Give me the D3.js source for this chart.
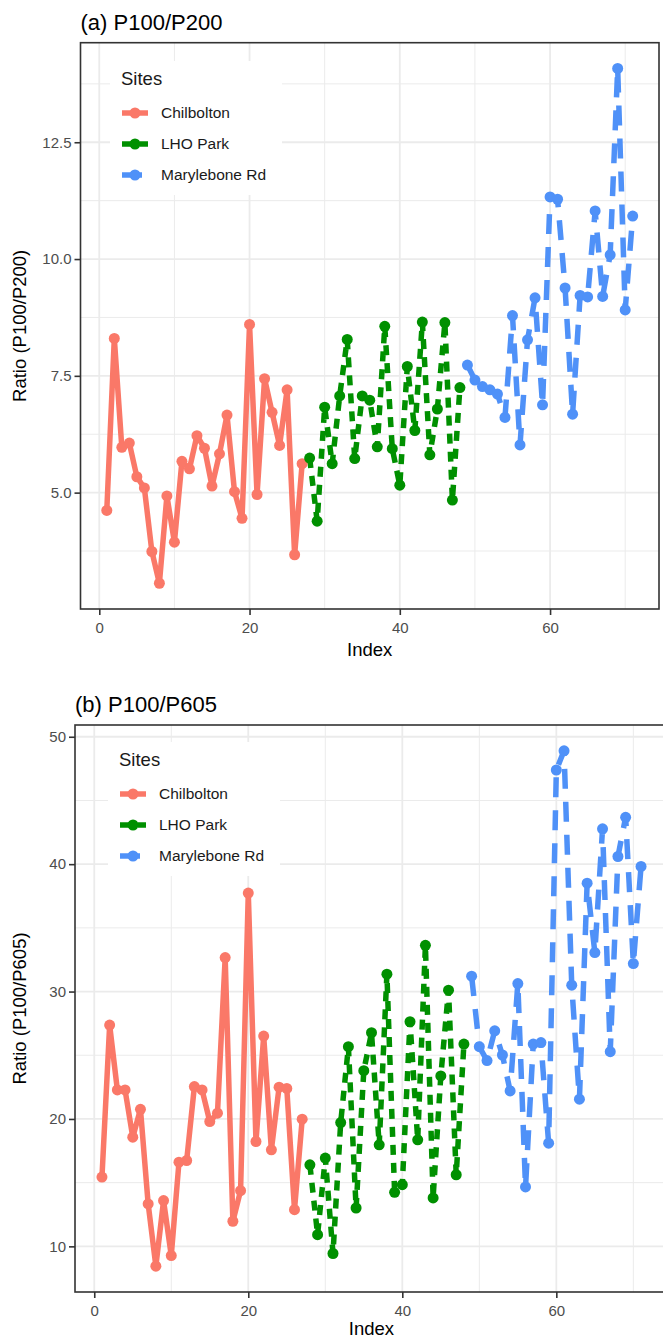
<!DOCTYPE html>
<html>
<head>
<meta charset="utf-8">
<script src="https://cdn.jsdelivr.net/npm/d3@7"></script>
<style>
body { margin: 0; background: #fff; }
svg { display: block; font-family: Arial, "Liberation Sans", sans-serif; }
</style>
</head>
<body>
<script>
var sites = ["Chilbolton", "LHO Park", "Marylebone Rd"];
var colors = ["#FA7868", "#009000", "#4F91F8"];
var dashes = [null, "10,8", "20,13"];

// values in index order, site by site (Chilbolton 1-27, LHO Park 28-48, Marylebone Rd 49-71)
var chil200 = [4.62, 8.30, 5.97, 6.06, 5.34, 5.10, 3.74, 3.06, 4.93, 3.94, 5.67, 5.51, 6.22, 5.95, 5.14, 5.83, 6.66, 5.02, 4.45, 8.60, 4.96, 7.44, 6.72, 6.01, 7.20, 3.67, 5.62];
var lho200 = [5.74, 4.39, 6.83, 5.62, 7.07, 8.28, 5.73, 7.07, 6.98, 5.98, 8.56, 5.94, 5.16, 7.70, 6.33, 8.65, 5.81, 6.79, 8.64, 4.84, 7.25];
var mary200 = [7.73, 7.41, 7.27, 7.20, 7.11, 6.61, 8.79, 6.02, 8.27, 9.17, 6.88, 11.33, 11.28, 9.38, 6.68, 9.22, 9.19, 11.03, 9.20, 10.09, 14.08, 8.91, 10.92];

var chil605 = [15.44, 27.37, 22.28, 22.28, 18.57, 20.76, 13.33, 8.44, 13.59, 9.28, 16.61, 16.74, 22.54, 22.28, 19.80, 20.45, 32.67, 11.97, 14.37, 37.73, 18.23, 26.51, 17.58, 22.49, 22.40, 12.88, 19.98];
var lho605 = [16.40, 10.92, 16.93, 9.44, 19.72, 25.67, 13.01, 23.79, 26.77, 17.97, 31.36, 14.24, 14.84, 27.63, 18.36, 33.63, 13.80, 23.38, 30.11, 15.62, 25.88];
var mary605 = [31.21, 25.67, 24.58, 26.92, 25.02, 22.20, 30.63, 14.66, 25.88, 26.00, 18.10, 47.39, 48.90, 30.50, 21.55, 38.51, 33.06, 42.77, 25.28, 40.60, 43.68, 32.20, 39.82];

var xTicks = [0, 20, 40, 60];
var xMinor = [10, 30, 50, 70];
var yTicksA = [5.0, 7.5, 10.0, 12.5];
var yMinorA = [3.75, 6.25, 8.75, 11.25, 13.75];
var yTicksB = [10, 20, 30, 40, 50];
var yMinorB = [15, 25, 35, 45];

var W = 663, H = 1339;
var svg = d3.select("body").append("svg").attr("width", W).attr("height", H);

function toSeries(groups) {
  var out = [], n = 0;
  groups.forEach(function (vals, s) {
    var pts = vals.map(function (v) { n++; return {x: n, y: v}; });
    out.push({site: s, pts: pts});
  });
  return out;
}

function expand(ext) {
  var d = (ext[1] - ext[0]) * 0.05;
  return [ext[0] - d, ext[1] + d];
}

function panel(p) {
  var series = toSeries(p.groups);
  var all = [].concat.apply([], series.map(function (s) { return s.pts; }));
  var x = d3.scaleLinear().domain(expand(d3.extent(all, function (d) { return d.x; }))).range([p.left, p.right]);
  var y = d3.scaleLinear().domain(expand(d3.extent(all, function (d) { return d.y; }))).range([p.bottom, p.top]);

  var g = svg.append("g");

  g.selectAll(".gxm").data(xMinor).enter().append("line")
    .attr("x1", function (d) { return x(d); }).attr("x2", function (d) { return x(d); })
    .attr("y1", p.top).attr("y2", p.bottom)
    .attr("stroke", "#EBEBEB").attr("stroke-width", 1);
  g.selectAll(".gym").data(p.yMinor).enter().append("line")
    .attr("y1", function (d) { return y(d); }).attr("y2", function (d) { return y(d); })
    .attr("x1", p.left).attr("x2", p.right)
    .attr("stroke", "#EBEBEB").attr("stroke-width", 1);
  g.selectAll(".gx").data(xTicks).enter().append("line")
    .attr("x1", function (d) { return x(d); }).attr("x2", function (d) { return x(d); })
    .attr("y1", p.top).attr("y2", p.bottom)
    .attr("stroke", "#EBEBEB").attr("stroke-width", 1.8);
  g.selectAll(".gy").data(p.yTicks).enter().append("line")
    .attr("y1", function (d) { return y(d); }).attr("y2", function (d) { return y(d); })
    .attr("x1", p.left).attr("x2", p.right)
    .attr("stroke", "#EBEBEB").attr("stroke-width", 1.8);

  // legend box sits over the grid, under the data
  var lx = p.legX, ly = p.legY;
  g.append("rect").attr("x", lx - 12).attr("y", ly - 18)
    .attr("width", 172).attr("height", 134).attr("fill", "#fff");
  g.append("text").attr("x", lx - 1).attr("y", ly).attr("dy", "0.35em")
    .attr("font-size", 18.5).attr("fill", "#1a1a1a").text("Sites");
  sites.forEach(function (s, i) {
    var yy = ly + 34 + i * 31;
    g.append("line").attr("x1", lx).attr("x2", lx + 26).attr("y1", yy).attr("y2", yy)
      .attr("stroke", colors[i]).attr("stroke-width", 5.5)
      .attr("stroke-dasharray", dashes[i]);
    g.append("circle").attr("cx", lx + 13).attr("cy", yy).attr("r", 5.5).attr("fill", colors[i]);
    g.append("text").attr("x", lx + 39).attr("y", yy).attr("dy", "0.35em")
      .attr("font-size", 15.5).attr("fill", "#1a1a1a").text(s);
  });

  var line = d3.line().x(function (d) { return x(d.x); }).y(function (d) { return y(d.y); });
  g.selectAll(".site").data(series).enter().append("path")
    .attr("d", function (d) { return line(d.pts); })
    .attr("fill", "none")
    .attr("stroke", function (d) { return colors[d.site]; })
    .attr("stroke-width", 5.5)
    .attr("stroke-linejoin", "round")
    .attr("stroke-dasharray", function (d) { return dashes[d.site]; });
  series.forEach(function (s) {
    g.selectAll(null).data(s.pts).enter().append("circle")
      .attr("cx", function (d) { return x(d.x); })
      .attr("cy", function (d) { return y(d.y); })
      .attr("r", 5.5)
      .attr("fill", colors[s.site]);
  });

  g.append("rect").attr("x", p.left).attr("y", p.top)
    .attr("width", p.right - p.left).attr("height", p.bottom - p.top)
    .attr("fill", "none").attr("stroke", "#333").attr("stroke-width", 1.6);

  var xa = g.append("g").attr("transform", "translate(0," + p.bottom + ")")
    .call(d3.axisBottom(x).tickValues(xTicks).tickSize(6).tickPadding(7).tickFormat(d3.format("d")));
  var ya = g.append("g").attr("transform", "translate(" + p.left + ",0)")
    .call(d3.axisLeft(y).tickValues(p.yTicks).tickSize(6).tickPadding(3).tickFormat(p.fmt));
  [xa, ya].forEach(function (a) {
    a.select(".domain").remove();
    a.selectAll(".tick line").attr("stroke", "#333").attr("stroke-width", 1.6);
    a.selectAll(".tick text").attr("fill", "#4D4D4D").attr("font-size", 15)
      .attr("font-family", "Arial, 'Liberation Sans', sans-serif");
  });

  g.append("text").attr("x", p.left).attr("y", p.top - 13)
    .attr("font-size", 22).attr("fill", "#000").text(p.title);
  g.append("text").attr("x", (p.left + p.right) / 2).attr("y", p.bottom + p.xlabGap)
    .attr("text-anchor", "middle").attr("font-size", 18.5).attr("fill", "#000").text("Index");
  g.append("text")
    .attr("transform", "translate(26," + ((p.top + p.bottom) / 2) + ") rotate(-90)")
    .attr("text-anchor", "middle").attr("font-size", 18.5).attr("fill", "#000").text(p.ylab);
}

panel({
  groups: [chil200, lho200, mary200],
  left: 80.5, right: 659, top: 42.7, bottom: 609, xlabGap: 47,
  yTicks: yTicksA, yMinor: yMinorA, fmt: d3.format(".1f"),
  title: "(a) P100/P200", ylab: "Ratio (P100/P200)",
  legX: 122, legY: 79
});
panel({
  groups: [chil605, lho605, mary605],
  left: 75, right: 668, top: 725, bottom: 1292, xlabGap: 43,
  yTicks: yTicksB, yMinor: yMinorB, fmt: d3.format("d"),
  title: "(b) P100/P605", ylab: "Ratio (P100/P605)",
  legX: 120, legY: 760
});
</script>
</body>
</html>
